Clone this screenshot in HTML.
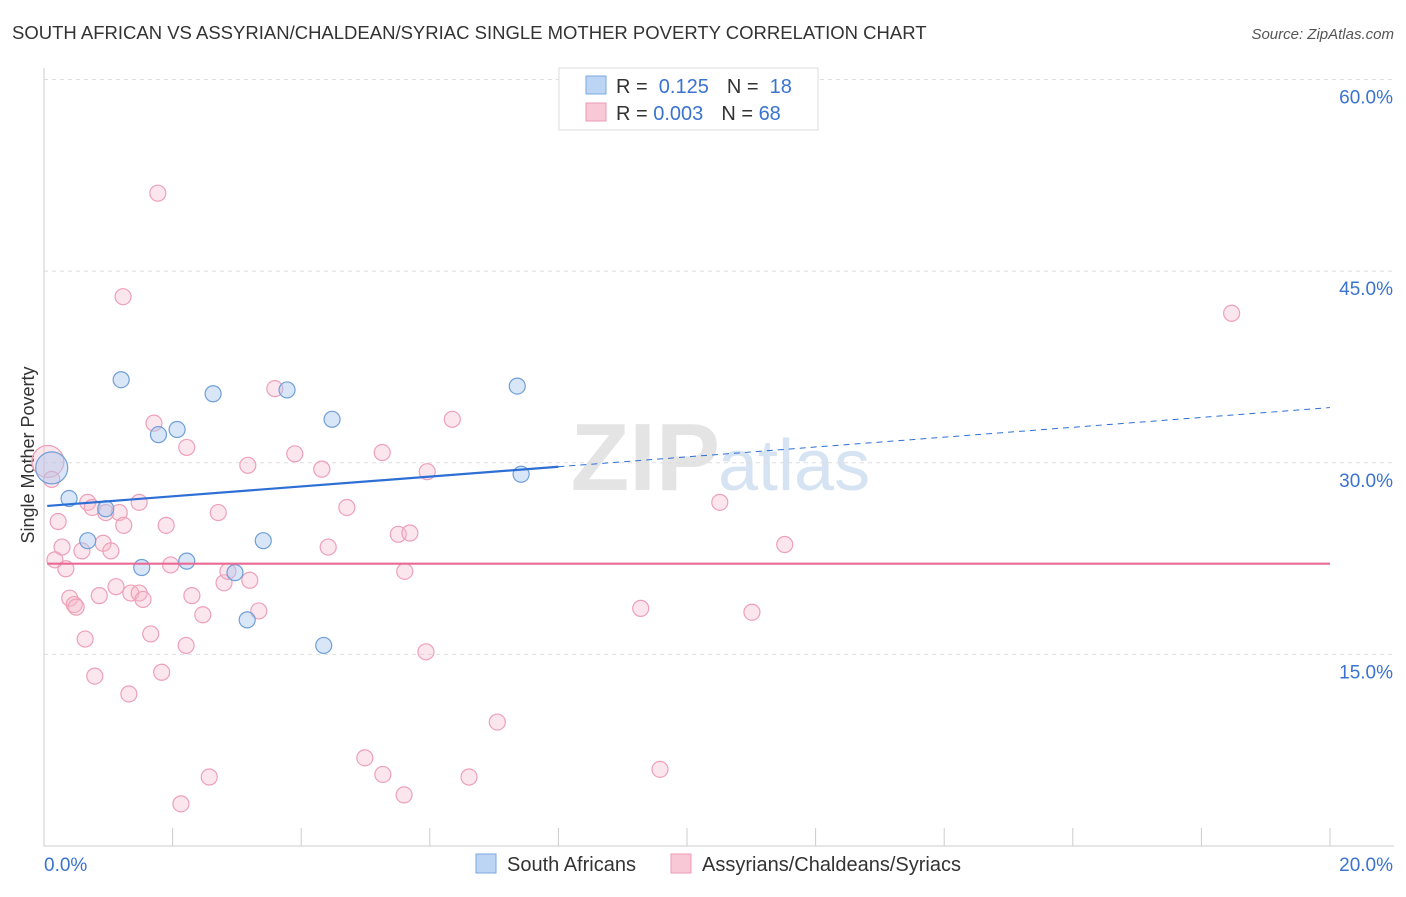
<!DOCTYPE html>
<html><head><meta charset="utf-8"><style>
body{margin:0;background:#fff;font-family:"Liberation Sans",sans-serif}
svg text{font-family:"Liberation Sans",sans-serif}
</style></head><body>
<svg id="c" width="1406" height="892">
<text x="12" y="39" font-size="18.5" fill="#333">SOUTH AFRICAN VS ASSYRIAN/CHALDEAN/SYRIAC SINGLE MOTHER POVERTY CORRELATION CHART</text>
<text x="1394" y="39" font-size="15" fill="#555" font-style="italic" text-anchor="end">Source: ZipAtlas.com</text>
<text x="720" y="490" font-size="96" fill="#e4e4e4" text-anchor="end" font-family="Liberation Serif" font-weight="bold">ZIP</text>
<text x="718" y="490" font-size="72" fill="#d5e3f3">atlas</text>
<text transform="translate(34,455) rotate(-90)" font-size="18" fill="#333" text-anchor="middle">Single Mother Poverty</text>
<g id="grid"></g><g id="marks"></g>
<g>
<rect x="559" y="68" width="259" height="62" fill="#fff" stroke="#ddd"/>
<rect x="586" y="76" width="20" height="18" fill="#bcd5f5" stroke="#7aa8e0"/>
<rect x="586" y="103" width="20" height="18" fill="#f9c8d6" stroke="#eb9ab3"/>
<text x="616" y="93" font-size="20" fill="#333">R = <tspan fill="#3a73d0">&#160;0.125</tspan><tspan dx="18">N = </tspan><tspan fill="#3a73d0">&#160;18</tspan></text>
<text x="616" y="120" font-size="20" fill="#333">R = <tspan fill="#3a73d0">0.003</tspan><tspan dx="18">N = </tspan><tspan fill="#3a73d0">68</tspan></text>
</g>
<g>
<rect x="476" y="854" width="20" height="19" fill="#bcd5f5" stroke="#7aa8e0"/>
<text x="507" y="871" font-size="20" fill="#333">South Africans</text>
<rect x="671" y="854" width="20" height="19" fill="#f9c8d6" stroke="#eb9ab3"/>
<text x="702" y="871" font-size="20" fill="#333">Assyrians/Chaldeans/Syriacs</text>
</g>
</svg>
<script>
const yTicks=[15,30,45,60];
const xTickLabels=["0.0%","20.0%"];
const blueX=[0.12,0.39,0.68,0.96,1.20,1.52,1.78,2.07,2.22,2.63,2.97,3.16,3.41,3.78,4.35,4.48,7.36,7.42];
const blueY=[29.6,27.2,23.9,26.4,36.5,21.8,32.2,32.6,22.3,35.4,21.4,17.7,23.9,35.7,15.7,33.4,36.0,29.1];
const pinkX=[0.06,0.12,0.17,0.22,0.28,0.34,0.40,0.47,0.50,0.59,0.64,0.68,0.75,0.79,0.86,0.92,0.96,1.04,1.12,1.17,1.23,1.24,1.32,1.35,1.48,1.48,1.54,1.66,1.71,1.77,1.83,1.90,1.97,2.21,2.22,2.30,2.47,2.57,2.71,2.13,2.80,2.86,3.17,3.20,3.34,3.59,3.90,4.32,4.42,4.71,4.99,5.26,5.27,5.51,5.60,5.61,5.69,5.94,5.96,6.35,6.61,7.05,9.28,9.58,10.51,11.01,11.52,18.47];
const pinkY=[30.1,28.7,22.4,25.4,23.4,21.7,19.4,18.9,18.7,23.1,16.2,26.9,26.5,13.3,19.6,23.7,26.1,23.1,20.3,26.1,43.0,25.1,11.9,19.8,26.9,19.8,19.3,16.6,33.1,51.1,13.6,25.1,22.0,15.7,31.2,19.6,18.1,5.4,26.1,3.3,20.6,21.5,29.8,20.8,18.4,35.8,30.7,29.5,23.4,26.5,6.9,30.8,5.6,24.4,4.0,21.5,24.5,15.2,29.3,33.4,5.4,9.7,18.6,6.0,26.9,18.3,23.6,41.7];
const X0=44,X1=1330,Y0=846,YT=79.5;
const sx=v=>X0+(X1-X0)*v/20, sy=v=>Y0-(Y0-YT)*v/60;
const NS="http://www.w3.org/2000/svg";
function mk(p,t,a){const e=document.createElementNS(NS,t);for(const k in a)e.setAttribute(k,a[k]);p.appendChild(e);return e;}
const g=document.getElementById('grid'),m=document.getElementById('marks');
mk(g,'line',{x1:X0,y1:68,x2:X0,y2:Y0,stroke:'#ccc'});
mk(g,'line',{x1:X0,y1:Y0,x2:1394,y2:Y0,stroke:'#ccc'});
yTicks.forEach(t=>{const l=mk(g,'line',{x1:X0,y1:sy(t),x2:1394,y2:sy(t),stroke:'#ddd','stroke-dasharray':'4,4'});

const tx=mk(g,'text',{x:1393,y:sy(t)+24,'font-size':19,fill:'#3a73d0','text-anchor':'end'});tx.textContent=t.toFixed(1)+'%';
});
for(let i=0;i<=10;i++){const l=mk(g,'line',{x1:sx(i*2),y1:Y0-18,x2:sx(i*2),y2:Y0,stroke:'#ccc'});
}
const xl=mk(g,'text',{x:44,y:871,'font-size':19,fill:'#3a73d0'});xl.textContent=xTickLabels[0];

const xr=mk(g,'text',{x:1393,y:871,'font-size':19,fill:'#3a73d0','text-anchor':'end'});xr.textContent=xTickLabels[1];

pinkX.forEach((x,i)=>{const c=mk(m,'circle',{cx:sx(x),cy:sy(pinkY[i]),r:i==0?16:8,fill:'rgba(247,182,202,0.35)',stroke:'#eda0b8','stroke-width':1.2});
});
blueX.forEach((x,i)=>{const c=mk(m,'circle',{cx:sx(x),cy:sy(blueY[i]),r:i==0?16:8,fill:'rgba(170,200,240,0.45)',stroke:'#6f9fd8','stroke-width':1.2});
});
const bl=v=>26.6+0.386*v;
let t1=mk(m,'line',{x1:sx(0.05),y1:sy(bl(0.05)),x2:sx(8),y2:sy(bl(8)),stroke:'#2e6fd6','stroke-width':2.2});

let t2=mk(m,'line',{x1:sx(8),y1:sy(bl(8)),x2:sx(20),y2:sy(bl(20)),stroke:'#2e6fd6','stroke-width':1,'stroke-dasharray':'6,5'});

let t3=mk(m,'line',{x1:sx(0.05),y1:sy(22.1),x2:sx(20),y2:sy(22.1),stroke:'#e86a95','stroke-width':2.2});

</script>
</body></html>
